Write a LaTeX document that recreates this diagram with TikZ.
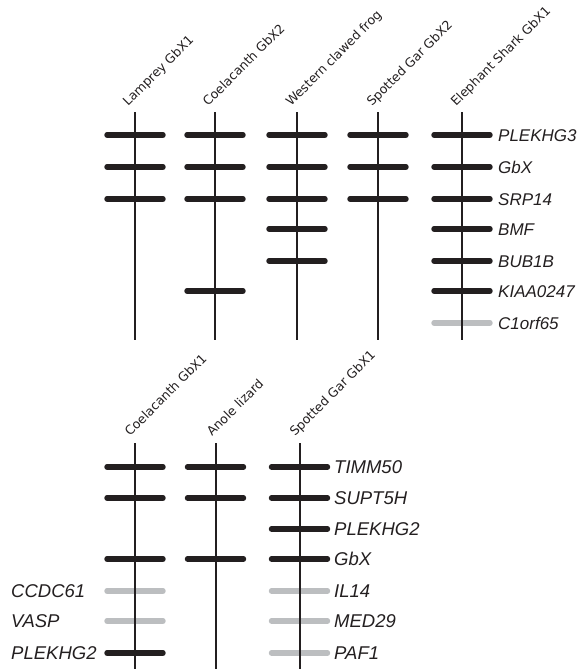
\documentclass[tikz,border=0pt]{standalone}
\usepackage{fontspec}
\setmainfont{Liberation Sans}
\newfontfamily\specfont{DejaVu Sans}
\definecolor{ink}{HTML}{231F20}
\definecolor{faint}{HTML}{BCBEC0}
\tikzset{
  spine/.style={line width=2pt, ink},
  genebar/.style={line width=5.4pt, line cap=round, ink},
  lostbar/.style={genebar, faint},
  species/.style={font=\specfont\fontsize{12.6}{13}\selectfont, rotate=45,
                  anchor=base west, inner sep=0pt, text=ink},
  geneA/.style={font=\fontsize{17}{17}\selectfont\itshape, anchor=base west,
                inner sep=0pt, text=ink},
  geneB/.style={font=\fontsize{18.5}{18.5}\selectfont\itshape, anchor=base west,
                inner sep=0pt, text=ink},
}
\newcommand{\hw}{28}
\begin{document}
\begin{tikzpicture}[x=1pt, y=-1pt]
\useasboundingbox (0,0) rectangle (583,669);

% ---------- upper block ----------
% columns: lamprey, coelacanth2, frog, gar2, shark
\foreach \cx/\ys in {135/{135,167,199},
                     215/{135,167,199,291},
                     297/{135,167,199,229,261},
                     378/{135,167,199},
                     462/{135,167,199,229,261,291}}{
  \foreach \yy in \ys { \draw[genebar] (\cx-\hw,\yy) -- (\cx+\hw,\yy); }
}
\draw[lostbar] (462-\hw,323) -- (462+\hw,323);
\foreach \cx/\nm in {135/lam,215/coeB,297/frog,378/garB,462/shark}{
  \coordinate (\nm top) at (\cx,112);
  \coordinate (\nm bot) at (\cx,340);
  \draw[spine] (\nm top) -- (\nm bot);
}
\node[species] (tLam)   at (128,107) {Lamprey GbX1};
\node[species] (tCoeB)  at (208,107) {Coelacanth GbX2};
\node[species] (tFrog)  at (291,107) {Western clawed frog};
\node[species] (tGarB)  at (372,107) {Spotted Gar GbX2};
\node[species] (tShark) at (456,107) {Elephant Shark GbX1};

\foreach \yy/\nm/\txt in {135/g1/PLEKHG3, 167/g2/GbX, 199/g3/SRP14, 229/g4/BMF,
                          261/g5/BUB1B, 291/g6/KIAA0247, 323/g7/C1orf65}{
  \node[geneA] (\nm) at (498,\yy+6.2) {\txt};
}

% ---------- lower block ----------
\foreach \cx/\ys in {135/{467,498,559,653},
                     215.5/{467,498,559},
                     299.5/{467,498,529,559}}{
  \foreach \yy in \ys { \draw[genebar] (\cx-\hw,\yy) -- (\cx+\hw,\yy); }
}
\foreach \cx/\ys in {135/{591,621}, 299.5/{591,621,653}}{
  \foreach \yy in \ys { \draw[lostbar] (\cx-\hw,\yy) -- (\cx+\hw,\yy); }
}
\foreach \cx/\nm in {135/coeA,215.5/anole,299.5/garA}{
  \coordinate (\nm top) at (\cx,443);
  \coordinate (\nm bot) at (\cx,669);
  \draw[spine] (\nm top) -- (\nm bot);
}
\node[species] (tCoeA)  at (130,437) {Coelacanth GbX1};
\node[species] (tAnole) at (212,437) {Anole lizard};
\node[species] (tGarA)  at (295,437) {Spotted Gar GbX1};

\foreach \yy/\nm/\txt in {467/r1/TIMM50, 498/r2/SUPT5H, 529/r3/PLEKHG2, 559/r4/GbX,
                          591/r5/IL14, 621/r6/MED29, 653/r7/PAF1}{
  \node[geneB] (\nm) at (334,\yy+6.6) {\txt};
}
\foreach \yy/\nm/\txt in {591/l1/CCDC61, 621/l2/VASP, 653/l3/PLEKHG2}{
  \node[geneB] (\nm) at (11,\yy+6.6) {\txt};
}
\end{tikzpicture}
\end{document}
